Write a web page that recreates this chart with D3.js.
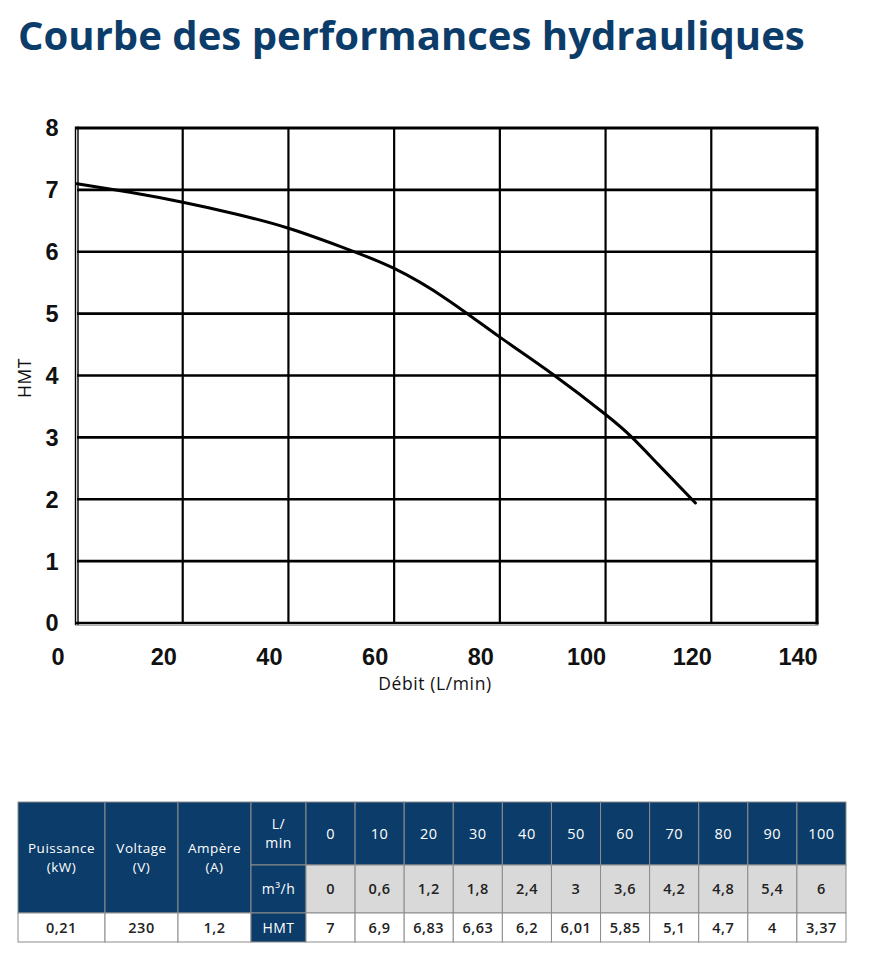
<!DOCTYPE html>
<html>
<head>
<meta charset="utf-8">
<script src="https://cdn.jsdelivr.net/npm/d3@7"></script>
<style>
  body { margin: 0; background: #fff; }
  svg { display: block; }
</style>
</head>
<body>
<div id="chart"></div>
<script>
// --- DATA ---

// courbe (débit L/min -> HMT m)
const curveFlow = [0, 10, 20, 30, 40, 50, 60, 70, 80, 90, 100, 105, 110, 117];
const curveHead = [7.1, 6.96, 6.8, 6.61, 6.38, 6.08, 5.73, 5.23, 4.62, 4.02, 3.37, 3.0, 2.56, 1.94];

const xTicks = [0, 20, 40, 60, 80, 100, 120, 140];
const yTicks = [0, 1, 2, 3, 4, 5, 6, 7, 8];

// tableau
const specHeaders = [["Puissance", "(kW)"], ["Voltage", "(V)"], ["Ampère", "(A)"]];
const specValues = ["0,21", "230", "1,2"];
const flowLmin = ["0", "10", "20", "30", "40", "50", "60", "70", "80", "90", "100"];
const flowM3h = ["0", "0,6", "1,2", "1,8", "2,4", "3", "3,6", "4,2", "4,8", "5,4", "6"];
const headHmt = ["7", "6,9", "6,83", "6,63", "6,2", "6,01", "5,85", "5,1", "4,7", "4", "3,37"];

// --- STYLE ---
const navy = "#0c3c69";
const grey = "#d9d9d9";
const border = "#8c8c8c";
const bodyFont = "'Open Sans', sans-serif";
const tickFont = "'Liberation Sans', Arial, sans-serif";

const svg = d3.select("#chart").append("svg")
    .attr("width", 873)
    .attr("height", 955);

// Titre
const title = svg.append("text")
    .attr("x", 18)
    .attr("y", 50)
    .attr("fill", navy)
    .attr("font-family", bodyFont)
    .attr("font-weight", 700)
    .attr("font-size", 38)
    .text("Courbe des performances hydrauliques");
// ajuster la taille pour couvrir la largeur du titre d'origine
const tw = title.node().getComputedTextLength();
title.attr("font-size", 38 * 787 / tw);

// --- GRAPHIQUE ---
const plot = {left: 77, right: 817, top: 128, bottom: 623};

const x = d3.scaleLinear().domain([0, 140]).range([plot.left, plot.right]);
const y = d3.scaleLinear().domain([0, 8]).range([plot.bottom, plot.top]);

const grid = svg.append("g");

// lignes verticales
grid.selectAll(".vline")
    .data(xTicks.slice(1, -1))
    .join("line")
    .attr("class", "vline")
    .attr("x1", d => x(d)).attr("x2", d => x(d))
    .attr("y1", plot.top).attr("y2", plot.bottom)
    .attr("stroke", "#000")
    .attr("stroke-width", 2.2);

// lignes horizontales
grid.selectAll(".hline")
    .data(yTicks.slice(1, -1))
    .join("line")
    .attr("class", "hline")
    .attr("x1", plot.left).attr("x2", plot.right)
    .attr("y1", d => y(d)).attr("y2", d => y(d))
    .attr("stroke", "#000")
    .attr("stroke-width", 2.6);

// cadre
grid.append("line")
    .attr("x1", plot.left - 1).attr("x2", plot.right + 1.5)
    .attr("y1", plot.top).attr("y2", plot.top)
    .attr("stroke", "#000").attr("stroke-width", 3.2);
grid.append("line")
    .attr("x1", plot.right).attr("x2", plot.right)
    .attr("y1", plot.top).attr("y2", plot.bottom + 1.5)
    .attr("stroke", "#000").attr("stroke-width", 3.2);
// bas et gauche en double trait
[[-1.5, 1.4], [1, 1.4]].forEach(([off, w]) => {
    grid.append("line")
        .attr("x1", plot.left + off).attr("x2", plot.left + off)
        .attr("y1", plot.top - 1.5).attr("y2", plot.bottom + 2)
        .attr("stroke", "#000").attr("stroke-width", w);
});
grid.append("line")
    .attr("x1", plot.left - 2).attr("x2", plot.right + 1.5)
    .attr("y1", plot.bottom).attr("y2", plot.bottom)
    .attr("stroke", "#000").attr("stroke-width", 2.6);
grid.append("line")
    .attr("x1", plot.left - 2).attr("x2", plot.right + 1.5)
    .attr("y1", plot.bottom + 2.3).attr("y2", plot.bottom + 2.3)
    .attr("stroke", "#999").attr("stroke-width", 1);

// étiquettes des axes
svg.append("g")
    .selectAll("text")
    .data(yTicks)
    .join("text")
    .attr("x", 52)
    .attr("y", d => y(d))
    .attr("dy", "0.36em")
    .attr("text-anchor", "middle")
    .attr("font-family", tickFont)
    .attr("font-weight", "bold")
    .attr("font-size", 23.5)
    .attr("fill", "#111")
    .text(d => d);

svg.append("g")
    .selectAll("text")
    .data(xTicks)
    .join("text")
    .attr("x", d => x(d) - 19)
    .attr("y", 657)
    .attr("dy", "0.36em")
    .attr("text-anchor", "middle")
    .attr("font-family", tickFont)
    .attr("font-weight", "bold")
    .attr("font-size", 23.5)
    .attr("fill", "#111")
    .text(d => d);

svg.append("text")
    .attr("x", 435)
    .attr("y", 684)
    .attr("dy", "0.35em")
    .attr("text-anchor", "middle")
    .attr("font-family", bodyFont)
    .attr("font-size", 17.5)
    .attr("letter-spacing", 0.6)
    .attr("fill", "#111")
    .text("Débit (L/min)");

svg.append("text")
    .attr("transform", "translate(25,378) rotate(-90)")
    .attr("dy", "0.35em")
    .attr("text-anchor", "middle")
    .attr("font-family", bodyFont)
    .attr("font-size", 17.5)
    .attr("letter-spacing", 0.6)
    .attr("fill", "#111")
    .text("HMT");

// courbe
const curvePoints = curveFlow.map((q, i) => [q, curveHead[i]]);
svg.append("path")
    .datum(curvePoints)
    .attr("fill", "none")
    .attr("stroke", "#000")
    .attr("stroke-width", 3)
    .attr("stroke-linecap", "round")
    .attr("d", d3.line()
        .x(d => x(d[0]))
        .y(d => y(d[1]))
        .curve(d3.curveNatural)
    );

// --- TABLEAU ---
const rows = [802, 865, 913, 942];
const fixedCols = [18, 105, 178, 251, 306];
const valX = d3.scaleBand().domain(flowLmin).range([306, 846]);

const table = svg.append("g")
    .attr("font-family", bodyFont)
    .attr("letter-spacing", 0.5);

function cell(x0, y0, w, h, fill) {
    table.append("rect")
        .attr("x", x0).attr("y", y0)
        .attr("width", w).attr("height", h)
        .attr("fill", fill)
        .attr("stroke", border)
        .attr("stroke-width", 1);
}

function label(cx, cy, lines, color, weight, size) {
    const t = table.append("text")
        .attr("x", cx)
        .attr("text-anchor", "middle")
        .attr("fill", color)
        .attr("font-weight", weight)
        .attr("font-size", size);
    const lh = size * 1.38;
    lines.forEach((l, i) => {
        t.append("tspan")
            .attr("x", cx)
            .attr("y", cy + (i - (lines.length - 1) / 2) * lh)
            .attr("dy", "0.36em")
            .text(l);
    });
}

// colonnes de spécifications
specHeaders.forEach((h, i) => {
    const x0 = fixedCols[i], x1 = fixedCols[i + 1];
    cell(x0, rows[0], x1 - x0, rows[2] - rows[0], navy);
    label((x0 + x1) / 2, (rows[0] + rows[2]) / 2, h, "#fff", 400, 13.5);
    cell(x0, rows[2], x1 - x0, rows[3] - rows[2], "#fff");
    label((x0 + x1) / 2, (rows[2] + rows[3]) / 2, [specValues[i]], "#222", 600, 14.5);
});

// colonne des unités
const ux0 = fixedCols[3], ux1 = fixedCols[4];
const unitLabels = [["L/", "min"], ["m³/h"], ["HMT"]];
unitLabels.forEach((u, r) => {
    cell(ux0, rows[r], ux1 - ux0, rows[r + 1] - rows[r], navy);
    label((ux0 + ux1) / 2, (rows[r] + rows[r + 1]) / 2, u, "#fff", 400, 14);
});

// colonnes des débits
const tableRows = [
    {values: flowLmin, fill: navy, color: "#fff", weight: 400},
    {values: flowM3h, fill: grey, color: "#222", weight: 600},
    {values: headHmt, fill: "#fff", color: "#222", weight: 600}
];
tableRows.forEach((row, r) => {
    row.values.forEach((v, i) => {
        const x0 = valX(flowLmin[i]);
        cell(x0, rows[r], valX.bandwidth(), rows[r + 1] - rows[r], row.fill);
        label(x0 + valX.bandwidth() / 2, (rows[r] + rows[r + 1]) / 2, [v], row.color, row.weight, 14.5);
    });
});
</script>
</body>
</html>
